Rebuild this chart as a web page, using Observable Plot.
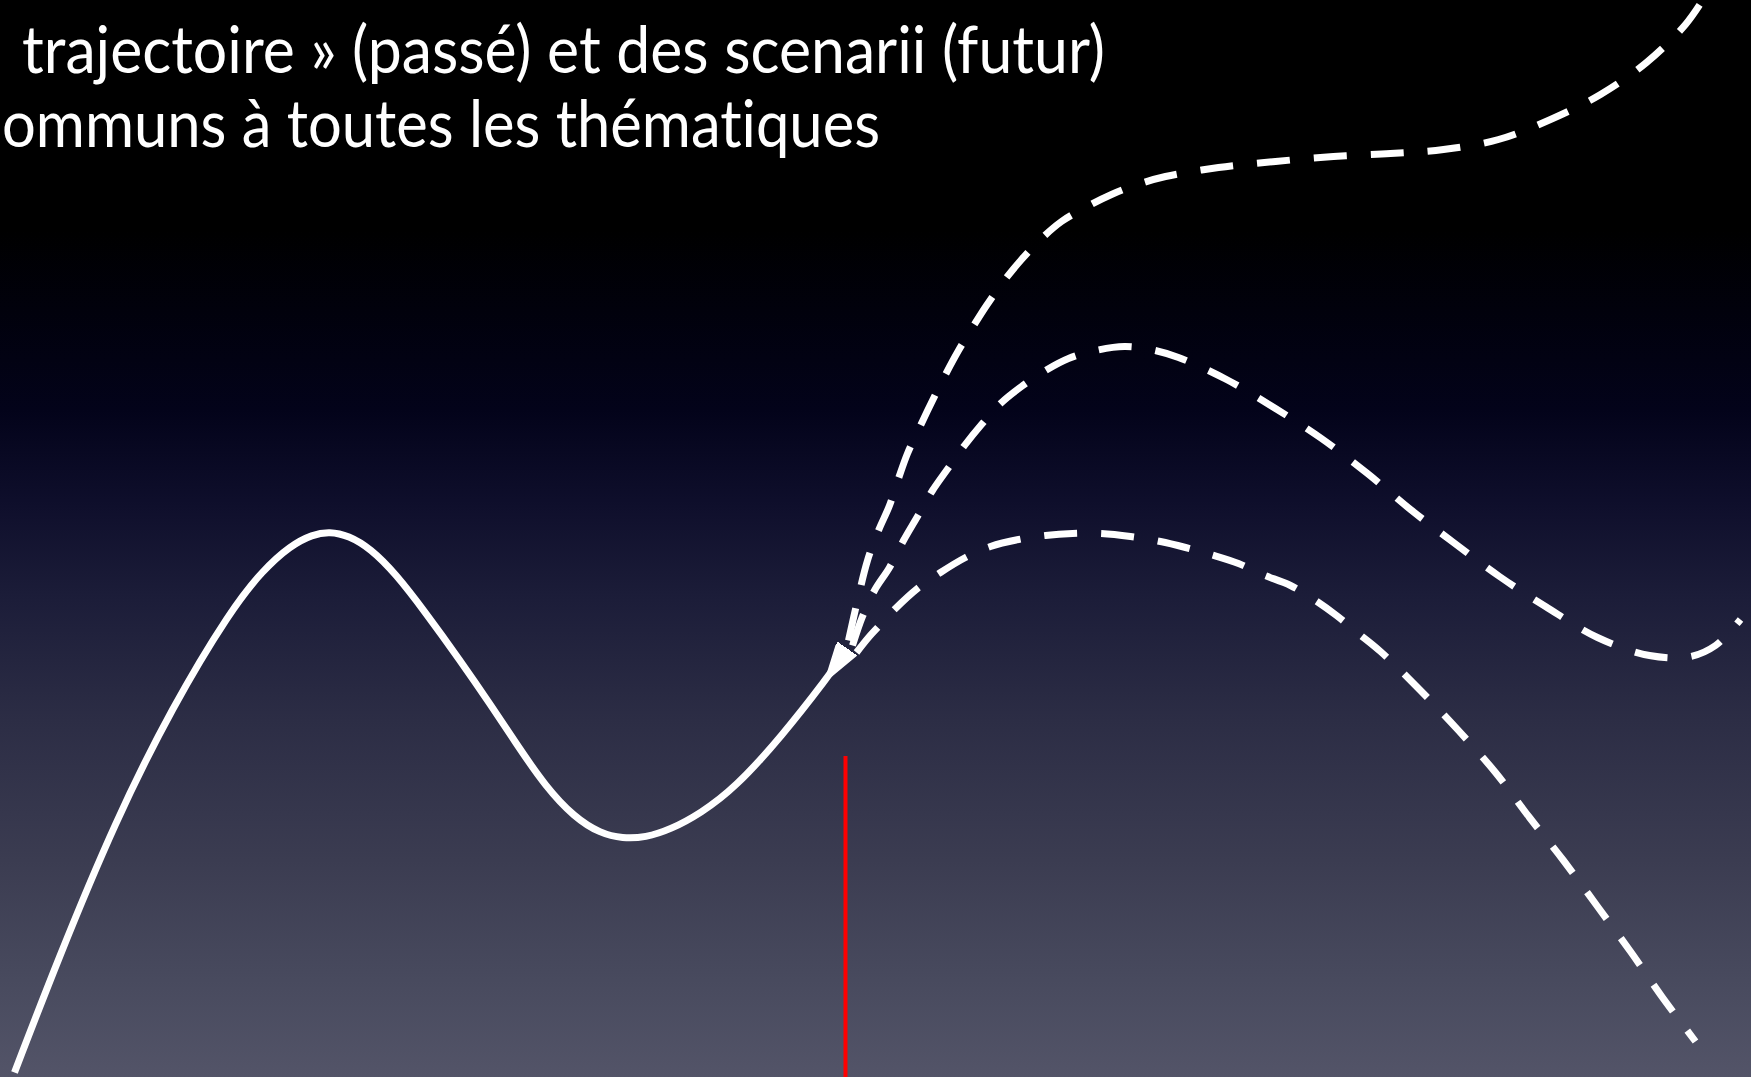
<!DOCTYPE html>
<html>
<head>
<meta charset="utf-8">
<script src="https://cdn.jsdelivr.net/npm/d3@7"></script>
<script src="https://cdn.jsdelivr.net/npm/@observablehq/plot@0.6"></script>
<style>
  html, body { margin: 0; padding: 0; background: #000; }
  #stage {
    position: relative; width: 1751px; height: 1077px; overflow: hidden;
    background: linear-gradient(to bottom, #000000 0px, #000000 230px, #01010c 310px, #03031a 410px, #0e0e2b 500px, #1c1d39 600px, #2c2d45 720px, #3b3c51 860px, #484a5e 980px, #535468 1077px);
  }
  .title { position: absolute; left: 0; color: #fff; font-family: Lato, "Open Sans", sans-serif;
    font-size: 66px; line-height: 1; white-space: nowrap; transform-origin: 0 0;
    font-variant-ligatures: none; font-feature-settings: "liga" 0, "clig" 0; }
</style>
</head>
<body>
<div id="stage"></div>
<script>
// ---- data (pixel-space drawing units) ----
const titleLines = ["trajectoire » (passé) et des scenarii (futur)", "ommuns à toutes les thématiques"];

// past trajectory (solid)
const pastX = [14, 57, 115, 172, 230, 262, 290, 312, 329, 348, 370, 395, 425, 459, 490, 517, 545, 574, 600, 622, 645, 670, 700, 735, 781, 827, 846];
const pastY = [1072, 960, 820, 706, 610, 570, 545, 534, 531, 535, 548, 573, 612, 659, 704, 745, 786, 817, 833, 838, 837, 829, 813, 787, 736, 677, 650];

// scenario high (dashed)
const highX = [848, 857, 867, 878, 889, 898, 907, 920, 932, 945, 958, 972, 986, 1003, 1021, 1040, 1061, 1085, 1111, 1140, 1165, 1218, 1275, 1333, 1390, 1443, 1498, 1550, 1600, 1646, 1685, 1702];
const highY = [640, 600, 560, 530, 505, 478, 453, 425, 400, 374, 350, 327, 305, 281, 259, 239, 221, 207, 194, 183, 176, 167, 161, 156, 153, 149, 139, 119, 94, 62, 24, 0];

// scenario middle (dashed)
const midX = [852, 862, 874, 889, 903, 917, 932, 946, 964, 981, 1000, 1021, 1045, 1068, 1095, 1124, 1150, 1178, 1226, 1275, 1321, 1367, 1410, 1453, 1499, 1545, 1597, 1649, 1690, 1715, 1740];
const midY = [645, 616, 590, 567, 540, 516, 490, 470, 445, 424, 403, 386, 370, 358, 350, 346, 349, 357, 379, 408, 438, 473, 509, 542, 576, 606, 637, 655, 656, 645, 619];

// scenario low (dashed)
const lowX = [856, 868, 880, 895, 917, 940, 965, 990, 1018, 1045, 1072, 1100, 1130, 1160, 1185, 1210, 1238, 1262, 1290, 1315, 1336, 1358, 1380, 1420, 1458, 1495, 1529, 1563, 1597, 1630, 1662, 1695];
const lowY = [652, 637, 624, 608, 588, 572, 557, 546, 539, 535, 533, 533, 536, 541, 547, 554, 563, 574, 585, 600, 615, 633, 651, 690, 730, 772, 817, 860, 906, 951, 997, 1041];

// "present" marker (red vertical)
const nowX = [845];
const nowTop = 756;

// ---- build ----
const W = 1751, H = 1077;
const toPts = (xs, ys) => xs.map((x, i) => ({x, y: ys[i]}));

function wedgeMarker(color) {
  const m = d3.create("svg:marker")
    .attr("viewBox", "-32 -12 34 24")
    .attr("markerUnits", "userSpaceOnUse")
    .attr("markerWidth", 34).attr("markerHeight", 24)
    .attr("refX", 0).attr("refY", 0)
    .attr("orient", "auto");
  m.append("path").attr("d", "M-28,0L0,-9L2,8Z").attr("fill", color);
  return m.node();
}

const dashStyle = {x: "x", y: "y", stroke: "#ffffff", strokeWidth: 7, strokeDasharray: "33,24", strokeLinecap: "butt", curve: "catmull-rom"};

const chart = Plot.plot({
  width: W, height: H,
  margin: 0,
  x: {domain: [0, W], axis: null},
  y: {domain: [H, 0], axis: null},
  style: {background: "transparent", overflow: "hidden"},
  marks: [
    Plot.ruleX(nowX, {x: d => d, y1: nowTop, y2: H, stroke: "#ff0000", strokeWidth: 4}),
    Plot.line(toPts(highX, highY), dashStyle),
    Plot.line(toPts(midX, midY), dashStyle),
    Plot.line(toPts(lowX, lowY), dashStyle),
    Plot.line(toPts(pastX, pastY), {x: "x", y: "y", stroke: "#ffffff", strokeWidth: 7, strokeLinecap: "butt", curve: "basis", markerEnd: wedgeMarker})
  ]
});
const stage = document.getElementById("stage");
stage.appendChild(chart);

// title overlay, sized to the reference's text extents
const targets = [{left: 22, baseline: 68, width: 1083}, {left: 2, baseline: 142, width: 878}];
titleLines.forEach((t, i) => {
  const d = document.createElement("div");
  d.className = "title";
  d.textContent = t;
  stage.appendChild(d);
  const r = d.getBoundingClientRect();
  const k = targets[i].width / r.width;
  d.style.left = targets[i].left + "px";
  d.style.top = (targets[i].baseline - 0.80 * 66) + "px";
  d.style.transform = `scaleX(${k})`;
});
</script>
</body>
</html>
